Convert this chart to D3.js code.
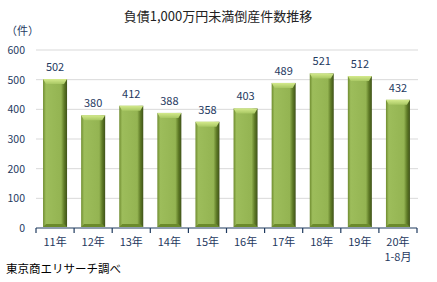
<!DOCTYPE html>
<html>
<head>
<meta charset="utf-8">
<script src="https://cdn.jsdelivr.net/npm/d3@7"></script>
<style>
  body { margin: 0; background: #fff; }
  text { font-family: "Noto Sans CJK JP", "Noto Sans", sans-serif; }
</style>
</head>
<body>
<div id="chart"></div>
<script>
const years = ["11年", "12年", "13年", "14年", "15年", "16年", "17年", "18年", "19年", "20年"];
const subLabels = ["", "", "", "", "", "", "", "", "", "1-8月"];
const counts = [502, 380, 412, 388, 358, 403, 489, 521, 512, 432];
const yTicks = [0, 100, 200, 300, 400, 500, 600];

const width = 437, height = 282;
const svg = d3.select("#chart")
    .append("svg")
    .attr("width", width)
    .attr("height", height);

const defs = svg.append("defs");
const sideGrad = defs.append("linearGradient").attr("id", "side")
    .attr("x1", "0%").attr("x2", "100%").attr("y1", "0%").attr("y2", "0%");
sideGrad.append("stop").attr("offset", "0%").attr("stop-color", "#6f8c30");
sideGrad.append("stop").attr("offset", "12%").attr("stop-color", "#9dbd5b");
sideGrad.append("stop").attr("offset", "75%").attr("stop-color", "#94b452");
sideGrad.append("stop").attr("offset", "88%").attr("stop-color", "#5e7a26");
sideGrad.append("stop").attr("offset", "100%").attr("stop-color", "#3f5219");

const topGrad = defs.append("linearGradient").attr("id", "topg")
    .attr("x1", "0%").attr("x2", "0%").attr("y1", "0%").attr("y2", "100%");
topGrad.append("stop").attr("offset", "0%").attr("stop-color", "#d4ea8c");
topGrad.append("stop").attr("offset", "100%").attr("stop-color", "#a8c763");

const x = d3.scaleBand()
    .domain(years)
    .range([36, 417])
    .paddingInner(0.37)
    .paddingOuter(0.185);

const y = d3.scaleLinear()
    .domain([0, 600])
    .range([228, 50]);

// gridlines
svg.append("g")
    .selectAll("line")
    .data(yTicks.filter(d => d > 0))
    .enter()
    .append("line")
    .attr("x1", 36).attr("x2", 418)
    .attr("y1", d => y(d)).attr("y2", d => y(d))
    .attr("stroke", "#d9d9d9")
    .attr("stroke-width", 1);

// y tick labels
svg.append("g")
    .selectAll("text")
    .data(yTicks)
    .enter()
    .append("text")
    .attr("x", 25)
    .attr("y", d => y(d) + 4)
    .attr("text-anchor", "end")
    .attr("font-size", "10.5px")
    .attr("fill", "#1f3a5f")
    .text(d => d);

svg.append("text")
    .attr("x", 6).attr("y", 35)
    .attr("font-size", "11px")
    .attr("fill", "#1f3a5f")
    .text("（件）");

// bars
const bars = svg.append("g")
    .selectAll("g")
    .data(counts)
    .enter()
    .append("g");

bars.append("rect")
    .attr("x", (d, i) => x(years[i]))
    .attr("y", d => y(d))
    .attr("width", x.bandwidth())
    .attr("height", d => y(0) - y(d) - 1)
    .attr("fill", "url(#side)");

bars.append("path")
    .attr("d", (d, i) => {
        const x0 = x(years[i]), w = x.bandwidth(), t = y(d);
        return `M${x0},${t}L${x0 + w},${t}L${x0 + w - 3},${t + 5}L${x0 + 3},${t + 5}Z`;
    })
    .attr("fill", "url(#topg)");

bars.append("path")
    .attr("d", (d, i) => {
        const x0 = x(years[i]), w = x.bandwidth(), b = y(0) - 1;
        return `M${x0},${b}L${x0 + w},${b}L${x0 + w - 3},${b - 3}L${x0 + 3},${b - 3}Z`;
    })
    .attr("fill", "#6b8a2c");

// value labels
bars.append("text")
    .attr("x", (d, i) => x(years[i]) + x.bandwidth() / 2)
    .attr("y", d => y(d) - 8)
    .attr("text-anchor", "middle")
    .attr("font-size", "11px")
    .attr("fill", "#1f3a5f")
    .text(d => d);

// x axis
const ax = svg.append("g")
    .attr("transform", `translate(0, ${y(0)})`);
ax.append("line")
    .attr("x1", 36).attr("x2", 417)
    .attr("stroke", "#1f3a5f").attr("stroke-width", 1.2);
ax.selectAll("line.tk")
    .data(d3.range(years.length + 1))
    .enter()
    .append("line")
    .attr("class", "tk")
    .attr("x1", i => 36 + i * x.step())
    .attr("x2", i => 36 + i * x.step())
    .attr("y1", 0).attr("y2", 5)
    .attr("stroke", "#1f3a5f").attr("stroke-width", 1.2);

const labels = svg.append("g")
    .selectAll("text")
    .data(years)
    .enter()
    .append("text")
    .attr("x", d => x(d) + x.bandwidth() / 2)
    .attr("y", 246)
    .attr("text-anchor", "middle")
    .attr("font-size", "11px")
    .attr("fill", "#1f3a5f");
labels.append("tspan").text(d => d);
labels.append("tspan")
    .attr("x", d => x(d) + x.bandwidth() / 2)
    .attr("dy", 15)
    .text((d, i) => subLabels[i]);

// title
svg.append("text")
    .attr("x", 218).attr("y", 21)
    .attr("text-anchor", "middle")
    .attr("font-size", "13px")
    .attr("fill", "#222")
    .text("負債1,000万円未満倒産件数推移");

// source
svg.append("text")
    .attr("x", 6).attr("y", 273)
    .attr("font-size", "11.5px")
    .attr("fill", "#000")
    .text("東京商エリサーチ調べ");
</script>
</body>
</html>
